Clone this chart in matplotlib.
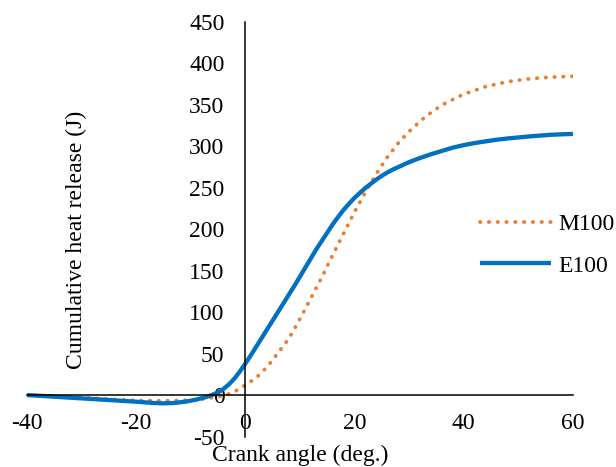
import matplotlib
matplotlib.use("Agg")
import matplotlib.pyplot as plt

# crank angle (deg.) and cumulative heat release (J)
angle_e100 = [-40, -35, -30, -25, -20, -17, -15, -13, -11, -9, -7, -5, -4, -3, -2, -1, 0,
              1, 2, 3, 4, 5, 6, 7, 8, 9, 10, 11, 12, 13, 14, 15, 16, 17, 18, 19, 20,
              21, 22, 23, 24, 25, 26, 27, 28, 29, 30, 32, 34, 36, 38, 40, 42, 44, 46, 48,
              52, 56, 60]
heat_e100 = [0, -2, -4, -6, -8, -9.5, -10, -9.5, -8, -5.5, -2, 3, 7.5, 13, 20, 28.5, 38,
             48, 58.5, 69, 79.5, 90, 100.5, 111, 121.5, 132, 143, 154, 165, 176, 186, 196, 206, 215, 223.5, 231, 238,
             244, 250, 255, 260, 264.5, 268.5, 272, 275, 278, 281, 286, 290.5, 294.5, 298.5, 301.5, 304, 306, 308, 309.5,
             312, 314, 315]

angle_m100 = [-40, -35, -30, -25, -20, -15, -12, -10, -8, -6, -4, -2, 0,
              2, 4, 6, 8, 10, 12, 14, 16, 18, 20, 22, 24, 26, 28, 30,
              33, 36, 40, 44, 48, 52, 56, 60]
heat_m100 = [0, -1, -3, -5, -6.5, -7, -6.5, -6, -5, -3, -1, 4, 12,
             21, 34, 51, 68.5, 92, 117, 142, 169, 195, 221, 245, 267, 287, 304, 318,
             336, 350, 363, 372, 378, 381.5, 383.5, 384.5]

x_ticks = [-40, -20, 0, 20, 40, 60]
y_ticks = [-50, 0, 50, 100, 150, 200, 250, 300, 350, 400, 450]

plt.rcParams['font.family'] = ['Liberation Serif', 'DejaVu Serif']
plt.rcParams['font.size'] = 17
plt.rcParams['axes.unicode_minus'] = False

fig = plt.figure(figsize=(6.16, 4.67), dpi=100)
ax = fig.add_axes([0.0438, 0.0653, 0.8864, 0.8876])

ax.plot(angle_m100, heat_m100, color='#ED7D31', lw=2.75,
        linestyle=(0, (0.1, 2.2)), dash_capstyle='round', label='M100')
ax.plot(angle_e100, heat_e100, color='#0070C0', lw=3.1,
        solid_capstyle='butt', label='E100')

ax.set_xlim(-40, 60)
ax.set_ylim(-50, 450)
ax.set_xticks(x_ticks)
ax.set_yticks(y_ticks)

for side in ['top', 'right']:
    ax.spines[side].set_visible(False)
ax.spines['left'].set_position(('data', 0))
ax.spines['bottom'].set_position(('data', 0))
for side in ['left', 'bottom']:
    ax.spines[side].set_linewidth(1.1)
    ax.spines[side].set_color('black')

ax.tick_params(axis='x', length=0, pad=13)
ax.tick_params(axis='y', length=0, pad=15)

ax.set_xlabel('Crank angle (deg.)', va='center')
ax.xaxis.set_label_coords(0.5, -0.045)
ax.set_ylabel('Cumulative heat release (J)', va='center')
ax.yaxis.set_label_coords(0.09, 0.474)

ax.legend(loc='center left', bbox_to_anchor=(0.8297, 0.462), frameon=False,
          borderpad=0, borderaxespad=0, handlelength=3.0, handletextpad=0.3,
          labelspacing=0.85)

fig.savefig('out.png', dpi=100)
